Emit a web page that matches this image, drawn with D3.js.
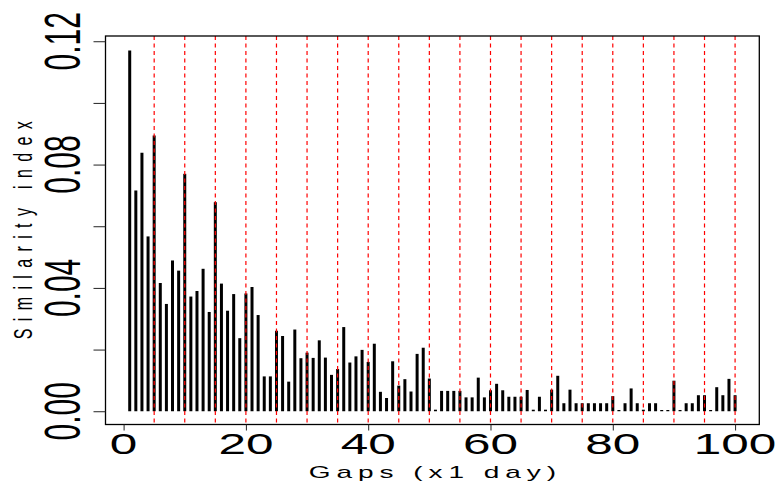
<!DOCTYPE html>
<html>
<head>
<meta charset="utf-8">
<script src="https://cdn.jsdelivr.net/npm/d3@7"></script>
<style>
  html, body { margin: 0; padding: 0; background: #ffffff; }
  svg { display: block; }
  text { font-family: "Liberation Sans", Arial, Helvetica, sans-serif; fill: #000; }
</style>
</head>
<body>
<svg id="chart" width="775" height="489"></svg>
<script>
// ---- data ----
const gaps = [1,2,3,4,5,6,7,8,9,10,11,12,13,14,15,16,17,18,19,20,
  21,22,23,24,25,26,27,28,29,30,31,32,33,34,35,36,37,38,39,40,
  41,42,43,44,45,46,47,48,49,50,51,52,53,54,55,56,57,58,59,60,
  61,62,63,64,65,66,67,68,69,70,71,72,73,74,75,76,77,78,79,80,
  81,82,83,84,85,86,87,88,89,90,91,92,93,94,95,96,97,98,99,100];
const similarity = [
  0.1170,0.0716,0.0838,0.0567,0.0894,0.0416,0.0348,0.0489,0.0456,0.0770,
  0.0372,0.0390,0.0462,0.0322,0.0678,0.0414,0.0326,0.0380,0.0237,0.0382,
  0.0403,0.0312,0.0113,0.0113,0.0261,0.0244,0.0096,0.0265,0.0172,0.0190,
  0.0173,0.0230,0.0174,0.0118,0.0137,0.0273,0.0158,0.0178,0.0199,0.0160,
  0.0219,0.0063,0.0043,0.0162,0.0083,0.0104,0.0064,0.0186,0.0206,0.0106,
  0.0005,0.0066,0.0066,0.0066,0.0066,0.0045,0.0045,0.0109,0.0045,0.0068,
  0.0089,0.0068,0.0047,0.0047,0.0047,0.0069,0.0005,0.0047,0.0005,0.0070,
  0.0115,0.0026,0.0070,0.0026,0.0026,0.0026,0.0026,0.0026,0.0026,0.0049,
  0.0004,0.0026,0.0074,0.0026,0.0005,0.0026,0.0026,0.0004,0.0004,0.0099,
  0.0004,0.0026,0.0026,0.0052,0.0052,0.0004,0.0078,0.0052,0.0105,0.0052];
const refLines = [5,10,15,20,25,30,35,40,45,50,55,60,65,70,75,80,85,90,95,100];
const xTicks = [0,20,40,60,80,100];
const xTickLabels = ["0","20","40","60","80","100"];
const yTicks = [0,0.02,0.04,0.06,0.08,0.10,0.12];
const yLabelTicks = [0,0.04,0.08,0.12];
const yTickLabels = ["0.00","0.04","0.08","0.12"];
const xTitle = "Gaps (x1 day)";
const yTitle = "Similarity index";

// ---- layout ----
const box = { left: 105.5, right: 759.3, top: 36, bottom: 424.5 };
const stretch = 1.65;

const svg = d3.select("#chart");

const x = d3.scaleLinear().domain([-2.96, 103.96]).range([box.left, box.right]);
const y = d3.scaleLinear().domain([-0.0043, 0.1217]).range([box.bottom, box.top]);

// bars (type = "h")
svg.append("g")
  .selectAll("line")
  .data(gaps.map((g, i) => ({ g, v: similarity[i] })))
  .join("line")
  .attr("x1", d => x(d.g)).attr("x2", d => x(d.g))
  .attr("y1", y(0)).attr("y2", d => y(d.v))
  .attr("stroke", "#000").attr("stroke-width", 3)
  .attr("stroke-linecap", "butt");

// red dashed reference lines
svg.append("g")
  .selectAll("line")
  .data(refLines)
  .join("line")
  .attr("x1", d => x(d)).attr("x2", d => x(d))
  .attr("y1", box.top).attr("y2", box.bottom)
  .attr("stroke", "#ff0000").attr("stroke-width", 1.2)
  .attr("stroke-dasharray", "4 3.5");

// box
svg.append("rect")
  .attr("x", box.left).attr("y", box.top)
  .attr("width", box.right - box.left).attr("height", box.bottom - box.top)
  .attr("fill", "none").attr("stroke", "#000").attr("stroke-width", 1.3);

// y axis ticks
const yAxis = svg.append("g")
  .attr("transform", `translate(${box.left},0)`)
  .call(d3.axisLeft(y).tickValues(yTicks).tickSize(12).tickFormat(""));
yAxis.select(".domain").remove();
yAxis.selectAll(".tick line").attr("stroke", "#222").attr("stroke-width", 1);

// x axis ticks
const xAxis = svg.append("g")
  .attr("transform", `translate(0,${box.bottom})`)
  .call(d3.axisBottom(x).tickValues(xTicks).tickSize(6).tickFormat(""));
xAxis.select(".domain").remove();
xAxis.selectAll(".tick line").attr("stroke", "#222").attr("stroke-width", 1);

// x tick labels
svg.append("g")
  .selectAll("text")
  .data(xTicks)
  .join("text")
  .attr("transform", d => `translate(${x(d)},453.5) scale(${stretch},1)`)
  .attr("text-anchor", "middle")
  .attr("font-size", 30)
  .text((d, i) => xTickLabels[i]);

// y tick labels (rotated)
svg.append("g")
  .selectAll("text")
  .data(yLabelTicks)
  .join("text")
  .attr("transform", d => `translate(80,${y(d)}) scale(${stretch},1) rotate(-90)`)
  .attr("text-anchor", "middle")
  .attr("font-size", 30)
  .text((d, i) => yTickLabels[i]);

// axis titles
svg.append("text")
  .attr("transform", `translate(${(box.left + box.right) / 2},478) scale(${stretch},1)`)
  .attr("text-anchor", "middle")
  .attr("font-size", 17)
  .attr("textLength", 150)
  .attr("lengthAdjust", "spacing")
  .text(xTitle);

svg.append("text")
  .attr("transform", `translate(32,${(box.top + box.bottom) / 2}) scale(${stretch},1) rotate(-90)`)
  .attr("text-anchor", "middle")
  .attr("font-size", 16)
  .attr("textLength", 218)
  .attr("lengthAdjust", "spacing")
  .text(yTitle);
</script>
</body>
</html>
